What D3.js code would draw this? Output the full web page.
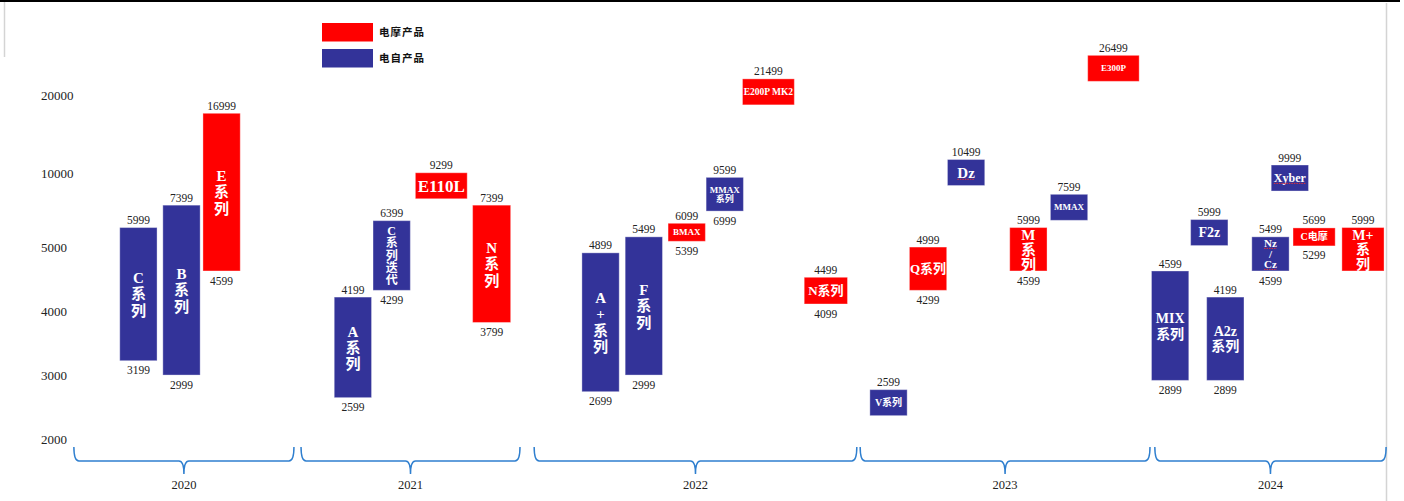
<!DOCTYPE html>
<html>
<head>
<meta charset="utf-8">
<script src="https://cdn.jsdelivr.net/npm/d3@7"></script>
<style>
  body { margin: 0; background: #fff; }
  text { font-family: "Liberation Serif", "Times New Roman", "Noto Sans CJK SC", serif; }
</style>
</head>
<body>
<div id="chart"></div>
<script>
// products, left to right (| marks a line break inside the bar)
var labels = ["C|系|列", "B|系|列", "E|系|列",
  "A|系|列", "C|系|列|迭|代", "E110L", "N|系|列",
  "A|+|系|列", "F|系|列", "BMAX", "MMAX|系列", "E200P MK2", "N系列",
  "V系列", "Q系列", "Dz", "M|系|列", "MMAX", "E300P",
  "MIX|系列", "F2z", "A2z|系列", "Nz|/|Cz", "Xyber", "C电摩", "M+|系|列"];
var kinds = ["bike", "bike", "moto",
  "bike", "bike", "moto", "moto",
  "bike", "bike", "moto", "bike", "moto", "moto",
  "bike", "moto", "bike", "moto", "bike", "moto",
  "bike", "bike", "bike", "bike", "bike", "moto", "moto"];
var priceHigh = [5999, 7399, 16999,
  4199, 6399, 9299, 7399,
  4899, 5499, 6099, 9599, 21499, 4499,
  2599, 4999, 10499, 5999, 7599, 26499,
  4599, 5999, 4199, 5499, 9999, 5699, 5999];
var priceLow = [3199, 2999, 4599,
  2599, 4299, null, 3799,
  2699, 2999, 5399, 6999, null, 4099,
  null, 4299, null, 4599, null, null,
  2899, null, 2899, 4599, null, 5299, 4599];
var lowLabelHidden = [25]; // M+ bar has no bottom label
// horizontal slot of each bar (centre, in bar widths)
var slots = [1.70, 2.855, 3.93,
  7.45, 8.49, 9.82, 11.17,
  14.09, 15.25, 16.40, 17.42, 18.59, 20.13,
  21.81, 22.87, 23.89, 25.56, 26.65, 27.84,
  29.36, 30.41, 30.84, 32.05, 32.57, 33.22, 34.53];

var years = ["2020", "2021", "2022", "2023", "2024"];
var yearStart = [-0.03, 6.06, 12.31, 21.05, 28.95];
var yearEnd = [5.87, 11.93, 20.96, 28.82, 35.15];

var yTicks = [2000, 3000, 4000, 5000, 10000, 20000];

var legendNames = ["电摩产品", "电自产品"];

// styles
var colors = { moto: "#FF0000", bike: "#333399" };
var barWidths = [1, 1, 1, 1, 1, 1.39, 1.02, 1, 1, 1, 1, 1.39, 1.16,
  1, 1, 1, 1, 1, 1.38, 1, 1, 1, 1, 1, 1.13, 1.13];
// [font size, line height] of the label inside each bar
var labelFont = [[15, 16.5], [15, 16.5], [15, 16.5],
  [15, 16], [12, 12.2], [17, 17], [15, 16.5],
  [15, 16.5], [15, 16.5], [9, 9], [9, 8.5], [9.5, 10], [13, 13],
  [10, 10], [13, 13], [15, 15], [15, 15], [9, 9], [9, 9],
  [14, 16], [14, 14], [14, 14.5], [11, 10.5], [12, 12], [10, 10], [14, 14.5]];
var singleBoxHeight = 26;   // boxes for a single price
var singleBoxLift = 8;      // the price sits a little below the box top
var minBoxHeight = 18;

var svgWidth = 1404;
var svgHeight = 501;

var svg = d3.select("#chart")
  .append("svg")
  .attr("width", svgWidth)
  .attr("height", svgHeight);

// frame bits
svg.append("rect").attr("x", 0).attr("y", 0).attr("width", 1400).attr("height", 2).attr("fill", "#000");
svg.append("line").attr("x1", 4.5).attr("x2", 4.5).attr("y1", 2).attr("y2", 57)
  .attr("stroke", "#d4d4d4").attr("stroke-width", 1.5);
svg.append("line").attr("x1", 1386.5).attr("x2", 1386.5).attr("y1", 3).attr("y2", svgHeight)
  .attr("stroke", "#d4d4d4").attr("stroke-width", 1.5);

// scales
var xScale = d3.scaleLinear().domain([0, 35]).range([75, 75 + 35 * 37.3]);
var unit = xScale(1) - xScale(0);
var yScale = d3.scaleLog()
  .domain(yTicks)
  .range([439, 375, 311, 247, 173, 95]);

var leftAxis = d3.axisLeft(yScale)
  .tickValues(yTicks)
  .tickFormat(d3.format("d"))
  .tickSize(0);

var axisGroup = svg.append("g").call(leftAxis);
axisGroup.select(".domain").remove();
axisGroup.selectAll("text")
  .attr("x", 41)
  .attr("text-anchor", "start")
  .attr("fill", "#222")
  .style("font-family", "'Liberation Serif', serif")
  .style("font-size", "13px");

// bars
var items = labels.map(function(l, i) {
  var top, bottom;
  if (priceLow[i] === null) {
    top = yScale(priceHigh[i]) - singleBoxLift;
    bottom = top + singleBoxHeight;
  } else {
    top = yScale(priceHigh[i]);
    bottom = yScale(priceLow[i]);
    if (bottom - top < minBoxHeight) {
      var m = (top + bottom) / 2;
      top = m - minBoxHeight / 2;
      bottom = m + minBoxHeight / 2;
    }
  }
  return {
    i: i, label: l, kind: kinds[i],
    cx: xScale(slots[i]), w: unit * barWidths[i],
    top: top, bottom: bottom
  };
});

var barGroup = svg.append("g");
barGroup.selectAll("rect")
  .data(items)
  .enter()
  .append("rect")
  .attr("x", d => d.cx - d.w / 2)
  .attr("y", d => d.top)
  .attr("width", d => d.w)
  .attr("height", d => d.bottom - d.top)
  .attr("fill", d => colors[d.kind])
  .attr("stroke", "#fff")
  .attr("stroke-opacity", 0.35)
  .attr("stroke-width", 1);

// price labels
barGroup.selectAll("text.high")
  .data(items)
  .enter()
  .append("text")
  .attr("class", "high")
  .attr("x", d => d.cx)
  .attr("y", d => d.top - 7.5)
  .attr("dy", "0.35em")
  .attr("text-anchor", "middle")
  .attr("fill", "#222")
  .style("font-size", "11.5px")
  .text(d => priceHigh[d.i]);

barGroup.selectAll("text.low")
  .data(items.filter(d => priceLow[d.i] !== null && lowLabelHidden.indexOf(d.i) < 0))
  .enter()
  .append("text")
  .attr("class", "low")
  .attr("x", d => d.cx)
  .attr("y", d => d.bottom + 9.5)
  .attr("dy", "0.35em")
  .attr("text-anchor", "middle")
  .attr("fill", "#222")
  .style("font-size", "11.5px")
  .text(d => priceLow[d.i]);

// names inside the bars
items.forEach(function(d) {
  var lines = d.label.split("|");
  var size = labelFont[d.i][0], lh = labelFont[d.i][1];
  var mid = (d.top + d.bottom) / 2;
  lines.forEach(function(line, k) {
    var ty = mid + (k - (lines.length - 1) / 2) * lh;
    var t = barGroup.append("text")
      .attr("x", d.cx)
      .attr("y", ty)
      .attr("dy", "0.35em")
      .attr("text-anchor", "middle")
      .attr("fill", "#fff")
      .attr("font-weight", "bold")
      .style("font-size", size + "px")
      .text(line);
    // red squiggle the word processor left under unknown words
    if (/^(Dz|Nz|Cz|Xyber)$/.test(line)) {
      var len = t.node().getComputedTextLength();
      barGroup.append("line")
        .attr("x1", d.cx - len / 2).attr("x2", d.cx + len / 2)
        .attr("y1", ty + size * 0.45).attr("y2", ty + size * 0.45)
        .attr("stroke", "#e0303a")
        .attr("stroke-width", 1)
        .attr("stroke-dasharray", "1.5,1");
    }
  });
});

// year braces
var braceY = 461, braceTop = 447, braceTip = 474;
var braceGroup = svg.append("g");
years.forEach(function(yr, i) {
  var x0 = xScale(yearStart[i]), x1 = xScale(yearEnd[i]);
  var c = (x0 + x1) / 2;
  var p = d3.path();
  p.moveTo(x0, braceTop);
  p.quadraticCurveTo(x0, braceY, x0 + 5, braceY);
  p.lineTo(c - 5, braceY);
  p.quadraticCurveTo(c, braceY, c, braceTip);
  p.quadraticCurveTo(c, braceY, c + 5, braceY);
  p.lineTo(x1 - 5, braceY);
  p.quadraticCurveTo(x1, braceY, x1, braceTop);
  braceGroup.append("path")
    .attr("d", p.toString())
    .attr("fill", "none")
    .attr("stroke", "#2f7fcf")
    .attr("stroke-width", 1.5);
  braceGroup.append("text")
    .attr("x", c)
    .attr("y", 485)
    .attr("dy", "0.35em")
    .attr("text-anchor", "middle")
    .attr("fill", "#222")
    .style("font-size", "12.5px")
    .text(yr);
});

// legend
var legend = svg.append("g").attr("transform", "translate(322, 23)");
legendNames.forEach(function(name, i) {
  legend.append("rect")
    .attr("x", 0).attr("y", i * 26)
    .attr("width", 51).attr("height", 18.5)
    .attr("fill", colors[i === 0 ? "moto" : "bike"]);
  legend.append("text")
    .attr("x", 57).attr("y", i * 26 + 9.5)
    .attr("dy", "0.35em")
    .attr("fill", "#111")
    .attr("font-weight", "bold")
    .style("font-size", "10.5px")
    .style("letter-spacing", "1px")
    .text(name);
});
</script>
</body>
</html>
